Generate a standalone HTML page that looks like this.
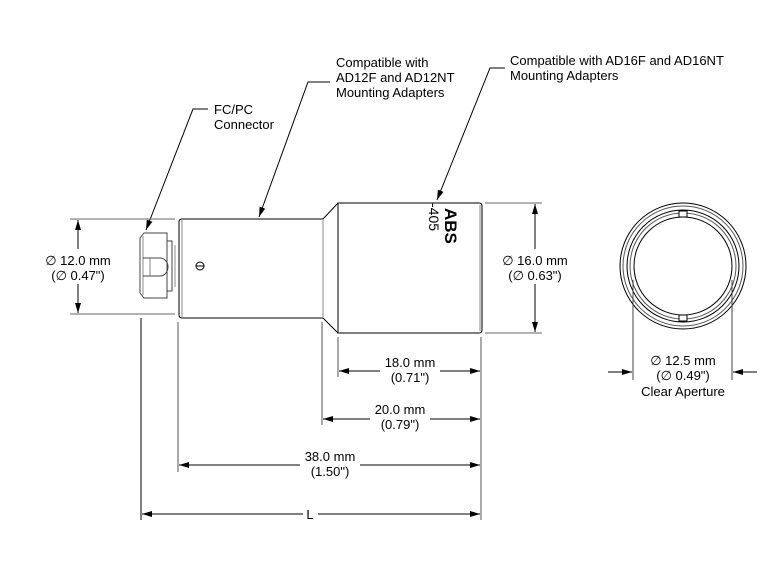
<!DOCTYPE html>
<html><head><style>
html,body{margin:0;padding:0;background:#fff}
svg{display:block}
text{font-family:"Liberation Sans",sans-serif;font-size:13px;fill:#000}
.c{text-anchor:middle}
</style></head><body>
<svg width="780" height="570" viewBox="0 0 780 570" xmlns="http://www.w3.org/2000/svg">
<defs>
<marker id="a" viewBox="0 0 10 6" refX="10" refY="3" markerWidth="10" markerHeight="6" orient="auto-start-reverse" markerUnits="userSpaceOnUse"><path d="M0,0L10,3L0,6z" fill="#000"/></marker>
</defs>
<g fill="none" stroke="#000" stroke-width="1">
<!-- connector -->
<path d="M144,233 L167,233 L167,298 L144,298 L140,293 L140,238 Z" stroke="#444"/>
<line x1="143" y1="236" x2="143" y2="295" stroke="#888"/>
<path d="M167,241 L172,241 L172,291 L167,291" stroke="#444"/>
<line x1="175" y1="245" x2="175" y2="287" stroke="#888"/>
<path d="M143,258 L160,258 A8,9 0 0 1 160,276 L143,276" stroke="#444"/>
<line x1="150" y1="258" x2="150" y2="276" stroke="#888"/>
<!-- tube1 -->
<path d="M182,219 L323,219 L323,318 L182,318 Q179,318 179,315 L179,222 Q179,219 182,219Z"/>
<line x1="182" y1="219" x2="182" y2="318" stroke="#888"/>
<circle cx="200" cy="266" r="4"/>
<line x1="196" y1="266" x2="204" y2="266"/>
<!-- taper -->
<path d="M323,219 L338,203 M323,318 L338,333"/>
<line x1="323" y1="219" x2="323" y2="318" stroke="#888"/>
<!-- body -->
<path d="M338,203 L479,203 Q482,203 482,206 L482,330 Q482,333 479,333 L338,333 Z"/>
<line x1="480" y1="205" x2="480" y2="331" stroke="#888"/>
</g>
<text transform="translate(445,208) rotate(90)" font-size="16" font-weight="bold" style="font-size:17px;font-weight:bold">ABS</text>
<text transform="translate(429,203) rotate(90)" style="font-size:14px">-405</text>

<!-- leaders -->
<g fill="none" stroke="#000">
<polyline points="208,109 193,109 146,230" marker-end="url(#a)"/>
<polyline points="330,82 308,82 259,217" marker-end="url(#a)"/>
<polyline points="505,68 490,68 437,200" marker-end="url(#a)"/>
</g>
<text x="214" y="114">FC/PC</text>
<text x="214" y="129">Connector</text>
<text x="336" y="67">Compatible with</text>
<text x="336" y="82">AD12F and AD12NT</text>
<text x="336" y="97">Mounting Adapters</text>
<text x="510" y="65">Compatible with AD16F and AD16NT</text>
<text x="510" y="80">Mounting Adapters</text>

<!-- left dim -->
<g stroke="#000" fill="none">
<line x1="70" y1="219" x2="175" y2="219" stroke="#666"/>
<line x1="70" y1="314" x2="175" y2="314" stroke="#666"/>
<line x1="78" y1="249" x2="78" y2="220" marker-end="url(#a)"/>
<line x1="78" y1="284" x2="78" y2="313" marker-end="url(#a)"/>
<line x1="485" y1="203" x2="542" y2="203" stroke="#666"/>
<line x1="485" y1="333" x2="542" y2="333" stroke="#666"/>
<line x1="535" y1="249" x2="535" y2="204" marker-end="url(#a)"/>
<line x1="535" y1="284" x2="535" y2="332" marker-end="url(#a)"/>
</g>
<text class="c" x="78" y="265">∅ 12.0 mm</text>
<text class="c" x="78" y="280">(∅ 0.47")</text>
<text class="c" x="535" y="265">∅ 16.0 mm</text>
<text class="c" x="535" y="280">(∅ 0.63")</text>

<!-- bottom dims -->
<g stroke="#000" fill="none">
<line x1="141" y1="318" x2="141" y2="520"/>
<line x1="178" y1="322" x2="178" y2="472" stroke="#555"/>
<line x1="322" y1="322" x2="322" y2="425" stroke="#555"/>
<line x1="338" y1="337" x2="338" y2="377" stroke="#555"/>
<line x1="481" y1="337" x2="481" y2="520" stroke="#555"/>
<line x1="380" y1="371" x2="339" y2="371" marker-end="url(#a)"/>
<line x1="440" y1="371" x2="480" y2="371" marker-end="url(#a)"/>
<line x1="370" y1="419" x2="323" y2="419" marker-end="url(#a)"/>
<line x1="430" y1="419" x2="480" y2="419" marker-end="url(#a)"/>
<line x1="300" y1="465" x2="179" y2="465" marker-end="url(#a)"/>
<line x1="360" y1="465" x2="480" y2="465" marker-end="url(#a)"/>
<line x1="303" y1="514" x2="142" y2="514" marker-end="url(#a)"/>
<line x1="318" y1="514" x2="480" y2="514" marker-end="url(#a)"/>
</g>
<text class="c" x="410" y="367">18.0 mm</text>
<text class="c" x="410" y="382">(0.71")</text>
<text class="c" x="400" y="414">20.0 mm</text>
<text class="c" x="400" y="429">(0.79")</text>
<text class="c" x="330" y="461">38.0 mm</text>
<text class="c" x="330" y="476">(1.50")</text>
<text class="c" x="310" y="519">L</text>

<!-- end view -->
<g fill="none" stroke="#000">
<circle cx="683" cy="266" r="63"/>
<circle cx="683" cy="266" r="60" stroke="#555"/>
<circle cx="683" cy="266" r="56"/>
<circle cx="683" cy="266" r="53" stroke="#555"/>
<circle cx="683" cy="266" r="49"/>
<rect x="679" y="211" width="8" height="6" fill="#fff"/>
<rect x="679" y="315" width="8" height="6" fill="#fff"/>
<line x1="633" y1="280" x2="633" y2="380" stroke="#444"/>
<line x1="732" y1="280" x2="732" y2="380" stroke="#444"/>
<line x1="608" y1="372" x2="632" y2="372" marker-end="url(#a)"/>
<line x1="757" y1="372" x2="733" y2="372" marker-end="url(#a)"/>
</g>
<text class="c" x="683" y="365">∅ 12.5 mm</text>
<text class="c" x="683" y="380">(∅ 0.49")</text>
<text class="c" x="683" y="396">Clear Aperture</text>
</svg>
</body></html>
